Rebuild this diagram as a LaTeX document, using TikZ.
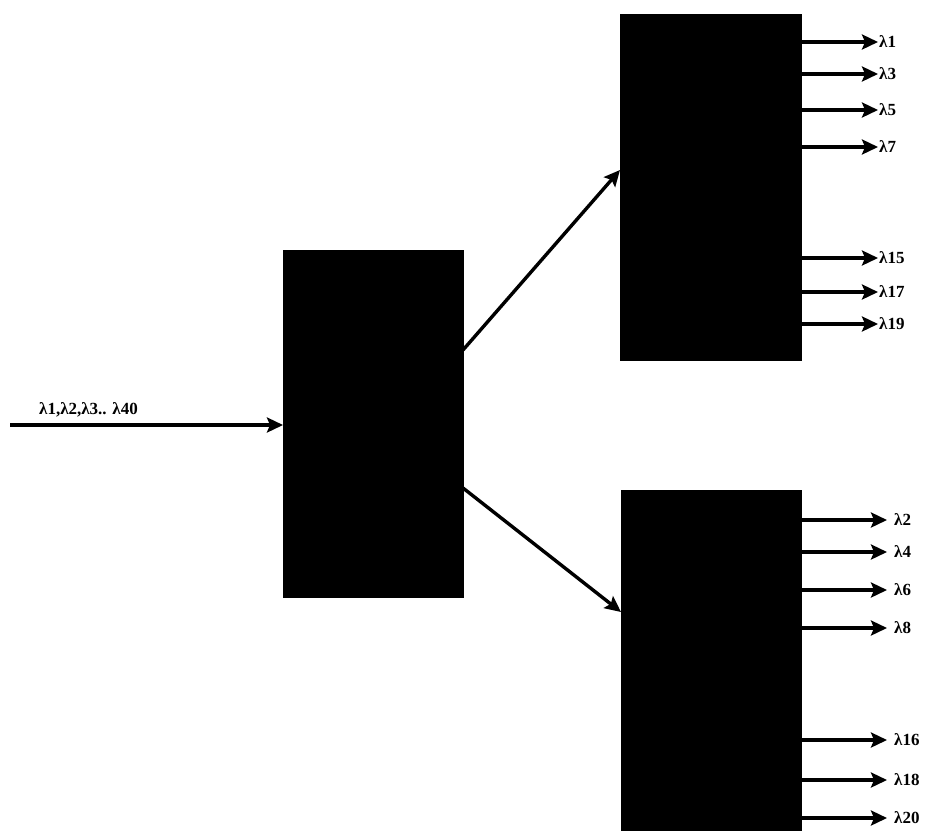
\documentclass[tikz,border=0pt]{standalone}
\usepackage{fontspec}
\setmainfont{Liberation Serif}
\usetikzlibrary{arrows.meta}
\begin{document}
\begin{tikzpicture}[x=1pt,y=-1pt,
  blk/.style={draw=black,fill=black,inner sep=0pt,anchor=north west},
  arr/.style={line width=3.4pt,-{Stealth[length=16pt,width=15pt,inset=3pt]}},
  lbl/.style={font=\bfseries\fontsize{17}{19}\selectfont,anchor=west,inner sep=1pt}]
\useasboundingbox (0,0) rectangle (933,830);
\node[blk,minimum width=180pt,minimum height=347pt] (mid) at (283,250) {};
\node[blk,minimum width=181pt,minimum height=346pt] (top) at (620,14) {};
\node[blk,minimum width=180pt,minimum height=345pt] (bot) at (621,490) {};
\coordinate (in) at (10,425);
\draw[arr] (in) -- (mid.west |- in);
\node[lbl,anchor=south west] (inl) at (38,418) {λ1,λ2,λ3.. λ40};
\coordinate (m1) at (463,350);
\coordinate (m2) at (463,488);
\draw[arr] (m1) -- (top.west |- 0,170);
\draw[arr] (m2) -- (bot.west |- 0,612);
\foreach \y/\t in {42/1,74/3,110/5,147/7,258/15,292/17,324/19}{
  \coordinate (s) at (801,\y);
  \node[lbl] (t\t) at (878,\y) {λ\t};
  \draw[arr] (s) -- (t\t.west);
}
\foreach \y/\t in {520/2,552/4,590/6,628/8,740/16,780/18,818/20}{
  \coordinate (s) at (801,\y);
  \node[lbl] (b\t) at (893,\y) {λ\t};
  \draw[arr] (s) -- ([xshift=-6pt]b\t.west);
}
\end{tikzpicture}
\end{document}
